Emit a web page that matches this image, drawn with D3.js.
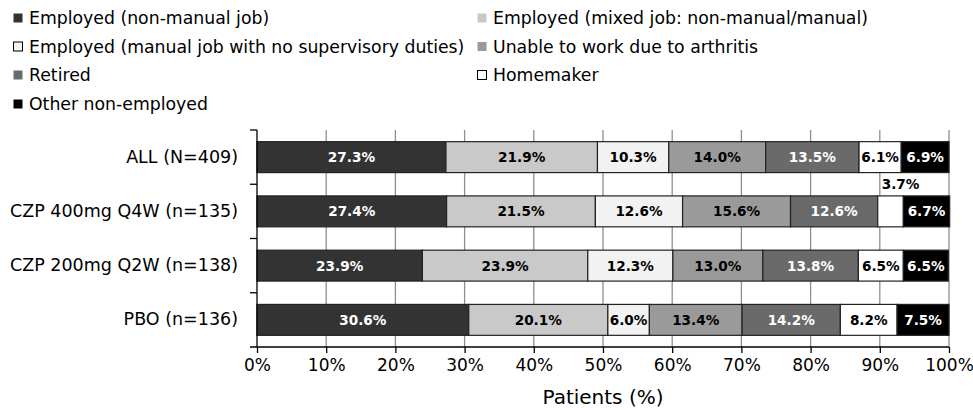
<!DOCTYPE html>
<html>
<head>
<meta charset="utf-8">
<script src="https://cdn.jsdelivr.net/npm/d3@7"></script>
<style>
  body { margin: 0; background: #fff; }
  svg { display: block; font-family: "DejaVu Sans", Verdana, sans-serif; }
</style>
</head>
<body>
<div id="chart"></div>
<script>
const groups = ["ALL (N=409)", "CZP 400mg Q4W (n=135)", "CZP 200mg Q2W (n=138)", "PBO (n=136)"];
const statuses = [
    "Employed (non-manual job)",
    "Employed (mixed job: non-manual/manual)",
    "Employed (manual job with no supervisory duties)",
    "Unable to work due to arthritis",
    "Retired",
    "Homemaker",
    "Other non-employed"
];
const nonManual = [27.3, 27.4, 23.9, 30.6];
const mixedJob = [21.9, 21.5, 23.9, 20.1];
const manualJob = [10.3, 12.6, 12.3, 6.0];
const unableToWork = [14.0, 15.6, 13.0, 13.4];
const retired = [13.5, 12.6, 13.8, 14.2];
const homemaker = [6.1, 3.7, 6.5, 8.2];
const otherNonEmployed = [6.9, 6.7, 6.5, 7.5];
const xTicks = [0, 10, 20, 30, 40, 50, 60, 70, 80, 90, 100];

const seriesValues = [nonManual, mixedJob, manualJob, unableToWork, retired, homemaker, otherNonEmployed];
const fills = ["#333333", "#c9c9c9", "#f2f2f2", "#9a9a9a", "#6a6a6a", "#ffffff", "#000000"];
const labelColors = ["#fff", "#000", "#000", "#000", "#fff", "#000", "#fff"];

const width = 973, height = 410;
const margin = { top: 130, right: 24, bottom: 63, left: 257 };

// one row per group, one key per status
const rows = groups.map((g, i) => {
    const row = { group: g };
    statuses.forEach((s, j) => row[s] = seriesValues[j][i]);
    return row;
});
const stacked = d3.stack().keys(statuses)(rows);

const svg = d3.select("#chart").append("svg")
    .attr("width", width)
    .attr("height", height);

const x = d3.scaleLinear()
    .domain([0, 100])
    .range([margin.left, width - margin.right]);

const y = d3.scaleBand()
    .domain(groups)
    .range([margin.top, height - margin.bottom])
    .paddingInner(0.43)
    .paddingOuter(0.215);

// vertical gridlines
svg.append("g")
    .selectAll("line")
    .data(xTicks.slice(1))
    .enter().append("line")
    .attr("x1", d => x(d))
    .attr("x2", d => x(d))
    .attr("y1", y.range()[0])
    .attr("y2", y.range()[1])
    .attr("stroke", "#8f8f8f")
    .attr("stroke-width", 1.3);

// bars
const layers = svg.append("g")
    .selectAll("g")
    .data(stacked)
    .enter().append("g")
    .attr("fill", (d, i) => fills[i]);

layers.selectAll("rect")
    .data(d => d)
    .enter().append("rect")
    .attr("x", d => x(d[0]))
    .attr("y", d => y(d.data.group))
    .attr("width", d => x(d[1]) - x(d[0]))
    .attr("height", y.bandwidth())
    .attr("stroke", "#222")
    .attr("stroke-width", 1.2);

// segment labels
layers.each(function (layer, li) {
    d3.select(this).selectAll("text")
        .data(layer)
        .enter().append("text")
        .attr("x", d => {
            const w = x(d[1]) - x(d[0]);
            const mid = (x(d[0]) + x(d[1])) / 2;
            return w < 40 ? mid + 10 : mid; // narrow ones sit above the bar, nudged right
        })
        .attr("y", d => {
            const w = x(d[1]) - x(d[0]);
            if (w < 40) return y(d.data.group) - 12;
            return y(d.data.group) + y.bandwidth() / 2;
        })
        .attr("dy", "0.36em")
        .attr("text-anchor", "middle")
        .attr("font-size", 13.6)
        .attr("font-weight", "bold")
        .attr("fill", d => (x(d[1]) - x(d[0]) < 40) ? "#000" : labelColors[li])
        .text(d => (d[1] - d[0]).toFixed(1) + "%");
});

// left axis
const step = y.step();
const y0 = y.range()[0];
svg.append("line")
    .attr("x1", x(0)).attr("x2", x(0))
    .attr("y1", y0).attr("y2", y.range()[1])
    .attr("stroke", "#000").attr("stroke-width", 1.3);
svg.append("g")
    .selectAll("line")
    .data(d3.range(groups.length))
    .enter().append("line")
    .attr("x1", x(0) - 7).attr("x2", x(0))
    .attr("y1", i => y0 + i * step)
    .attr("y2", i => y0 + i * step)
    .attr("stroke", "#000").attr("stroke-width", 1.3);

svg.append("g")
    .attr("transform", `translate(${x(0)},0)`)
    .call(d3.axisLeft(y).tickSize(0).tickPadding(19))
    .call(g => g.select(".domain").remove())
    .selectAll("text")
    .attr("font-size", 17.5)
    .attr("font-family", "DejaVu Sans, Verdana, sans-serif")
    .attr("fill", "#000");

// bottom axis
const xAxis = svg.append("g")
    .attr("transform", `translate(0,${y.range()[1]})`)
    .call(d3.axisBottom(x).tickValues(xTicks).tickFormat(d => d + "%").tickSize(6).tickPadding(6));
xAxis.select(".domain").remove();
xAxis.append("line")
    .attr("x1", x(0) - 7).attr("x2", x(100))
    .attr("stroke", "#000").attr("stroke-width", 1.3);
xAxis.selectAll(".tick line").attr("stroke", "#000").attr("stroke-width", 1.3);
xAxis.selectAll("text")
    .attr("font-size", 17)
    .attr("font-family", "DejaVu Sans, Verdana, sans-serif")
    .attr("fill", "#000");

svg.append("text")
    .attr("x", (x(0) + x(100)) / 2)
    .attr("y", 404)
    .attr("text-anchor", "middle")
    .attr("font-size", 20)
    .text("Patients (%)");

// legend, two columns
const legendCols = [13, 477];
const legendRows = [18, 46.5, 75, 104];
const legend = svg.append("g")
    .selectAll("g")
    .data(statuses)
    .enter().append("g")
    .attr("transform", (d, i) => `translate(${legendCols[i % 2]},${legendRows[Math.floor(i / 2)]})`);

legend.append("rect")
    .attr("x", 0.5)
    .attr("y", -4.5)
    .attr("width", 9)
    .attr("height", 9)
    .attr("fill", (d, i) => fills[i])
    .attr("stroke", (d, i) => (i === 2 || i === 5) ? "#000" : "none")
    .attr("stroke-width", 1);

legend.append("text")
    .attr("x", 16)
    .attr("dy", "0.36em")
    .attr("font-size", 17.3)
    .text(d => d);
</script>
</body>
</html>
